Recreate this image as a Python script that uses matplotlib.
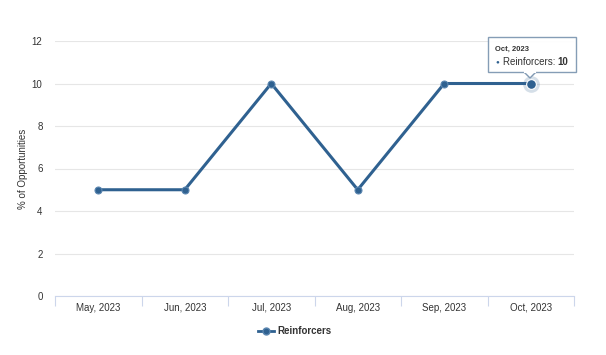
import matplotlib
matplotlib.use("Agg")
import matplotlib.pyplot as plt
from matplotlib.lines import Line2D
from matplotlib.patches import FancyBboxPatch, Polygon

categories = ["May, 2023", "Jun, 2023", "Jul, 2023", "Aug, 2023", "Sep, 2023", "Oct, 2023"]
values = [5, 5, 10, 5, 10, 10]
series_name = "Reinforcers"
y_ticks = [0, 2, 4, 6, 8, 10, 12]

plt.rcParams['font.family'] = ['Liberation Sans', 'DejaVu Sans']
color = '#2f6190'

fig = plt.figure(figsize=(6.06, 3.55), dpi=100)
ax = fig.add_axes([55/606, 59/355, (574-55)/606, (296-41)/355])
x = list(range(len(categories)))
ax.set_xlim(-0.5, len(categories) - 0.5)
ax.set_ylim(0, 12)
ax.set_yticks(y_ticks)
ax.set_yticklabels([str(t) for t in y_ticks], fontsize=7, color='#333333')
ax.grid(axis='y', color='#e6e6e6', linewidth=0.8)
ax.set_axisbelow(True)
for s in ['top', 'right', 'left']:
    ax.spines[s].set_visible(False)
ax.spines['bottom'].set_color('#ccd6eb')
ax.tick_params(axis='y', length=0, pad=9)
ax.set_xticks(x)
ax.set_xticklabels(categories, fontsize=7, color='#333333')
ax.tick_params(axis='x', length=0, pad=5)
ax.set_xticks([i - 0.5 for i in range(len(categories) + 1)], minor=True)
ax.tick_params(axis='x', which='minor', length=7, color='#ccd6eb', width=0.8)
ax.set_ylabel("% of Opportunities", fontsize=7, color='#333333')
ax.yaxis.set_label_coords((28 - 55) / 519, 0.5)

ax.plot(x, values, color=color, linewidth=2.2, marker='o', markersize=5,
        markerfacecolor=color, markeredgecolor='#5b86b0', markeredgewidth=0.8, zorder=3, clip_on=False)
# hover halo on last point
ax.plot([x[-1]], [values[-1]], marker='o', markersize=12, color='#2f6190', alpha=0.2,
        markeredgewidth=0, zorder=2, clip_on=False)
ax.plot([x[-1]], [values[-1]], marker='o', markersize=7, markerfacecolor=color,
        markeredgecolor='white', markeredgewidth=0.8, zorder=4, clip_on=False)

# legend
handle = Line2D([0], [0], color=color, linewidth=2, marker='o', markersize=5,
                markerfacecolor=color, markeredgecolor='#5b86b0')
leg = fig.legend([handle], [series_name], loc='center', bbox_to_anchor=(295/606, 1 - 331/355),
                 frameon=False, prop={'weight': 'bold', 'size': 7}, handlelength=1.6, handletextpad=0.4)
for t in leg.get_texts():
    t.set_color('#333333')

# tooltip
bx0, by0, bx1, by1 = 488, 37, 576, 72  # pixels (top-left origin)
def fx(px): return px / 606
def fy(py): return 1 - py / 355
box = FancyBboxPatch((fx(bx0), fy(by1)), fx(bx1) - fx(bx0), fy(by0) - fy(by1),
                     boxstyle="square,pad=0", transform=fig.transFigure,
                     facecolor='white', edgecolor='#7f98b2', linewidth=1.0, zorder=10, alpha=0.95)
fig.add_artist(box)
arrow = Polygon([(fx(524), fy(72)), (fx(530), fy(78)), (fx(536), fy(72))], closed=False,
                transform=fig.transFigure, facecolor='white', edgecolor='#7f98b2', linewidth=1.0, zorder=11)
fig.add_artist(arrow)
fig.add_artist(Line2D([fx(524.8), fx(535.2)], [fy(72), fy(72)], transform=fig.transFigure,
                      color='white', linewidth=1.5, zorder=12))
fig.text(fx(495), fy(49), categories[-1], fontsize=5.5, color='#333333', fontweight='bold',
         va='center', ha='left', zorder=13)
fig.text(fx(495), fy(62), "\u25CF", fontsize=4.5, color=color, va='center', ha='left', zorder=13)
fig.text(fx(503), fy(62), f"{series_name}: ", fontsize=7, color='#333333', va='center', ha='left', zorder=13)
fig.text(fx(557), fy(62), f"{values[-1]}", fontsize=7, color='#333333', fontweight='bold', va='center', ha='left', zorder=13)

fig.savefig("out.png", dpi=100, facecolor='white')
